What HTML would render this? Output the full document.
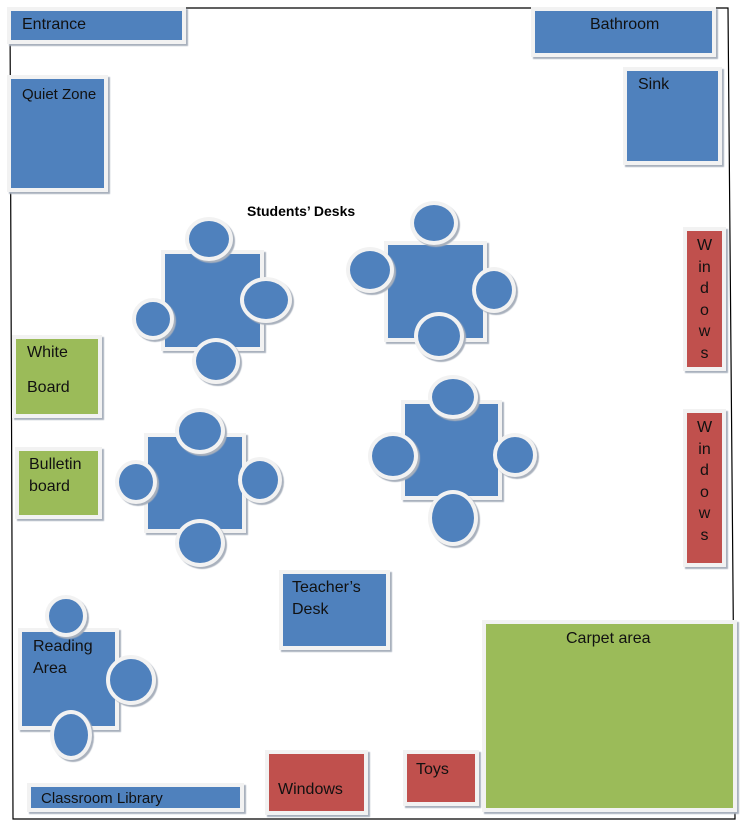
<!DOCTYPE html>
<html><head><style>
body{margin:0;width:740px;height:821px;position:relative;background:#fff;font-family:"Liberation Sans",Arial,sans-serif;overflow:hidden}
.b{position:absolute;box-sizing:border-box;border:4px solid #f2f2f2;box-shadow:2px 2px 1px #a9b1bd;font-size:16px;color:#111;}
.bl{background:#4f81bd}.g{background:#9bbb59}.r{background:#c0504d}
.c{position:absolute;box-sizing:border-box;border:4px solid #f2f2f2;border-radius:50%;background:#4f81bd;box-shadow:2px 2px 1px #a9b1bd}
.t{position:absolute;white-space:nowrap}
</style></head><body>
<svg width="740" height="821" style="position:absolute;left:0;top:0">
<polyline points="10,8 728,8 735,819 13,819 10,8" fill="none" stroke="#000" stroke-width="1.2"/>
</svg>
<div class="b bl" style="left:7px;top:7px;width:179px;height:37px"><span class="t" style="left:11px;top:5px">Entrance</span></div>
<div class="b bl" style="left:531px;top:7px;width:185px;height:50px"><span class="t" style="left:55px;top:5px">Bathroom</span></div>
<div class="b bl" style="left:623px;top:67px;width:99px;height:98px"><span class="t" style="left:11px;top:5px">Sink</span></div>
<div class="b bl" style="left:7px;top:75px;width:101px;height:117px"><span class="t" style="left:11px;top:7px;font-size:15px">Quiet Zone</span></div>
<div class="t" style="left:247px;top:203px;font-weight:bold;font-size:14px">Students’ Desks</div>

<div class="b bl" style="left:161px;top:250px;width:103px;height:101px"></div>
<div class="c" style="left:185px;top:217px;width:48px;height:44px"></div>
<div class="c" style="left:240px;top:277px;width:52px;height:46px"></div>
<div class="c" style="left:132px;top:298px;width:42px;height:42px"></div>
<div class="c" style="left:192px;top:338px;width:48px;height:46px"></div>

<div class="b bl" style="left:384px;top:241px;width:103px;height:101px"></div>
<div class="c" style="left:410px;top:201px;width:48px;height:44px"></div>
<div class="c" style="left:346px;top:247px;width:48px;height:46px"></div>
<div class="c" style="left:472px;top:267px;width:44px;height:46px"></div>
<div class="c" style="left:414px;top:312px;width:50px;height:48px"></div>

<div class="b bl" style="left:144px;top:433px;width:102px;height:100px"></div>
<div class="c" style="left:175px;top:408px;width:50px;height:46px"></div>
<div class="c" style="left:115px;top:460px;width:42px;height:44px"></div>
<div class="c" style="left:238px;top:457px;width:44px;height:46px"></div>
<div class="c" style="left:175px;top:519px;width:50px;height:48px"></div>

<div class="b bl" style="left:401px;top:400px;width:101px;height:100px"></div>
<div class="c" style="left:428px;top:375px;width:50px;height:44px"></div>
<div class="c" style="left:368px;top:432px;width:50px;height:48px"></div>
<div class="c" style="left:493px;top:433px;width:44px;height:44px"></div>
<div class="c" style="left:428px;top:490px;width:50px;height:56px"></div>

<div class="b g" style="left:12px;top:335px;width:90px;height:83px"><span class="t" style="left:11px;top:5px">White</span><span class="t" style="left:11px;top:40px">Board</span></div>
<div class="b g" style="left:15px;top:447px;width:87px;height:72px"><span class="t" style="left:10px;top:5px">Bulletin</span><span class="t" style="left:10px;top:27px">board</span></div>

<div class="b r" style="left:683px;top:227px;width:43px;height:144px"><div class="t" style="left:0;width:35px;top:4px;text-align:center;font-size:16px;line-height:21.5px;white-space:normal">W<br>in<br>d<br>o<br>w<br>s</div></div>
<div class="b r" style="left:683px;top:409px;width:43px;height:158px"><div class="t" style="left:0;width:35px;top:4px;text-align:center;font-size:16px;line-height:21.5px;white-space:normal">W<br>in<br>d<br>o<br>w<br>s</div></div>

<div class="b bl" style="left:279px;top:570px;width:111px;height:80px"><span class="t" style="left:9px;top:5px">Teacher’s</span><span class="t" style="left:9px;top:27px">Desk</span></div>

<div class="b bl" style="left:18px;top:628px;width:101px;height:102px"><span class="t" style="left:11px;top:6px">Reading</span><span class="t" style="left:11px;top:28px">Area</span></div>
<div class="c" style="left:45px;top:595px;width:42px;height:42px"></div>
<div class="c" style="left:106px;top:655px;width:50px;height:50px"></div>
<div class="c" style="left:50px;top:710px;width:42px;height:50px"></div>

<div class="b bl" style="left:27px;top:783px;width:217px;height:29px"><span class="t" style="left:10px;top:3px;font-size:15px">Classroom Library</span></div>
<div class="b r" style="left:265px;top:750px;width:103px;height:65px"><span class="t" style="left:9px;top:27px">Windows</span></div>
<div class="b r" style="left:403px;top:750px;width:76px;height:56px"><span class="t" style="left:9px;top:7px">Toys</span></div>
<div class="b g" style="left:482px;top:620px;width:255px;height:192px"><span class="t" style="left:80px;top:6px">Carpet area</span></div>
</body></html>
